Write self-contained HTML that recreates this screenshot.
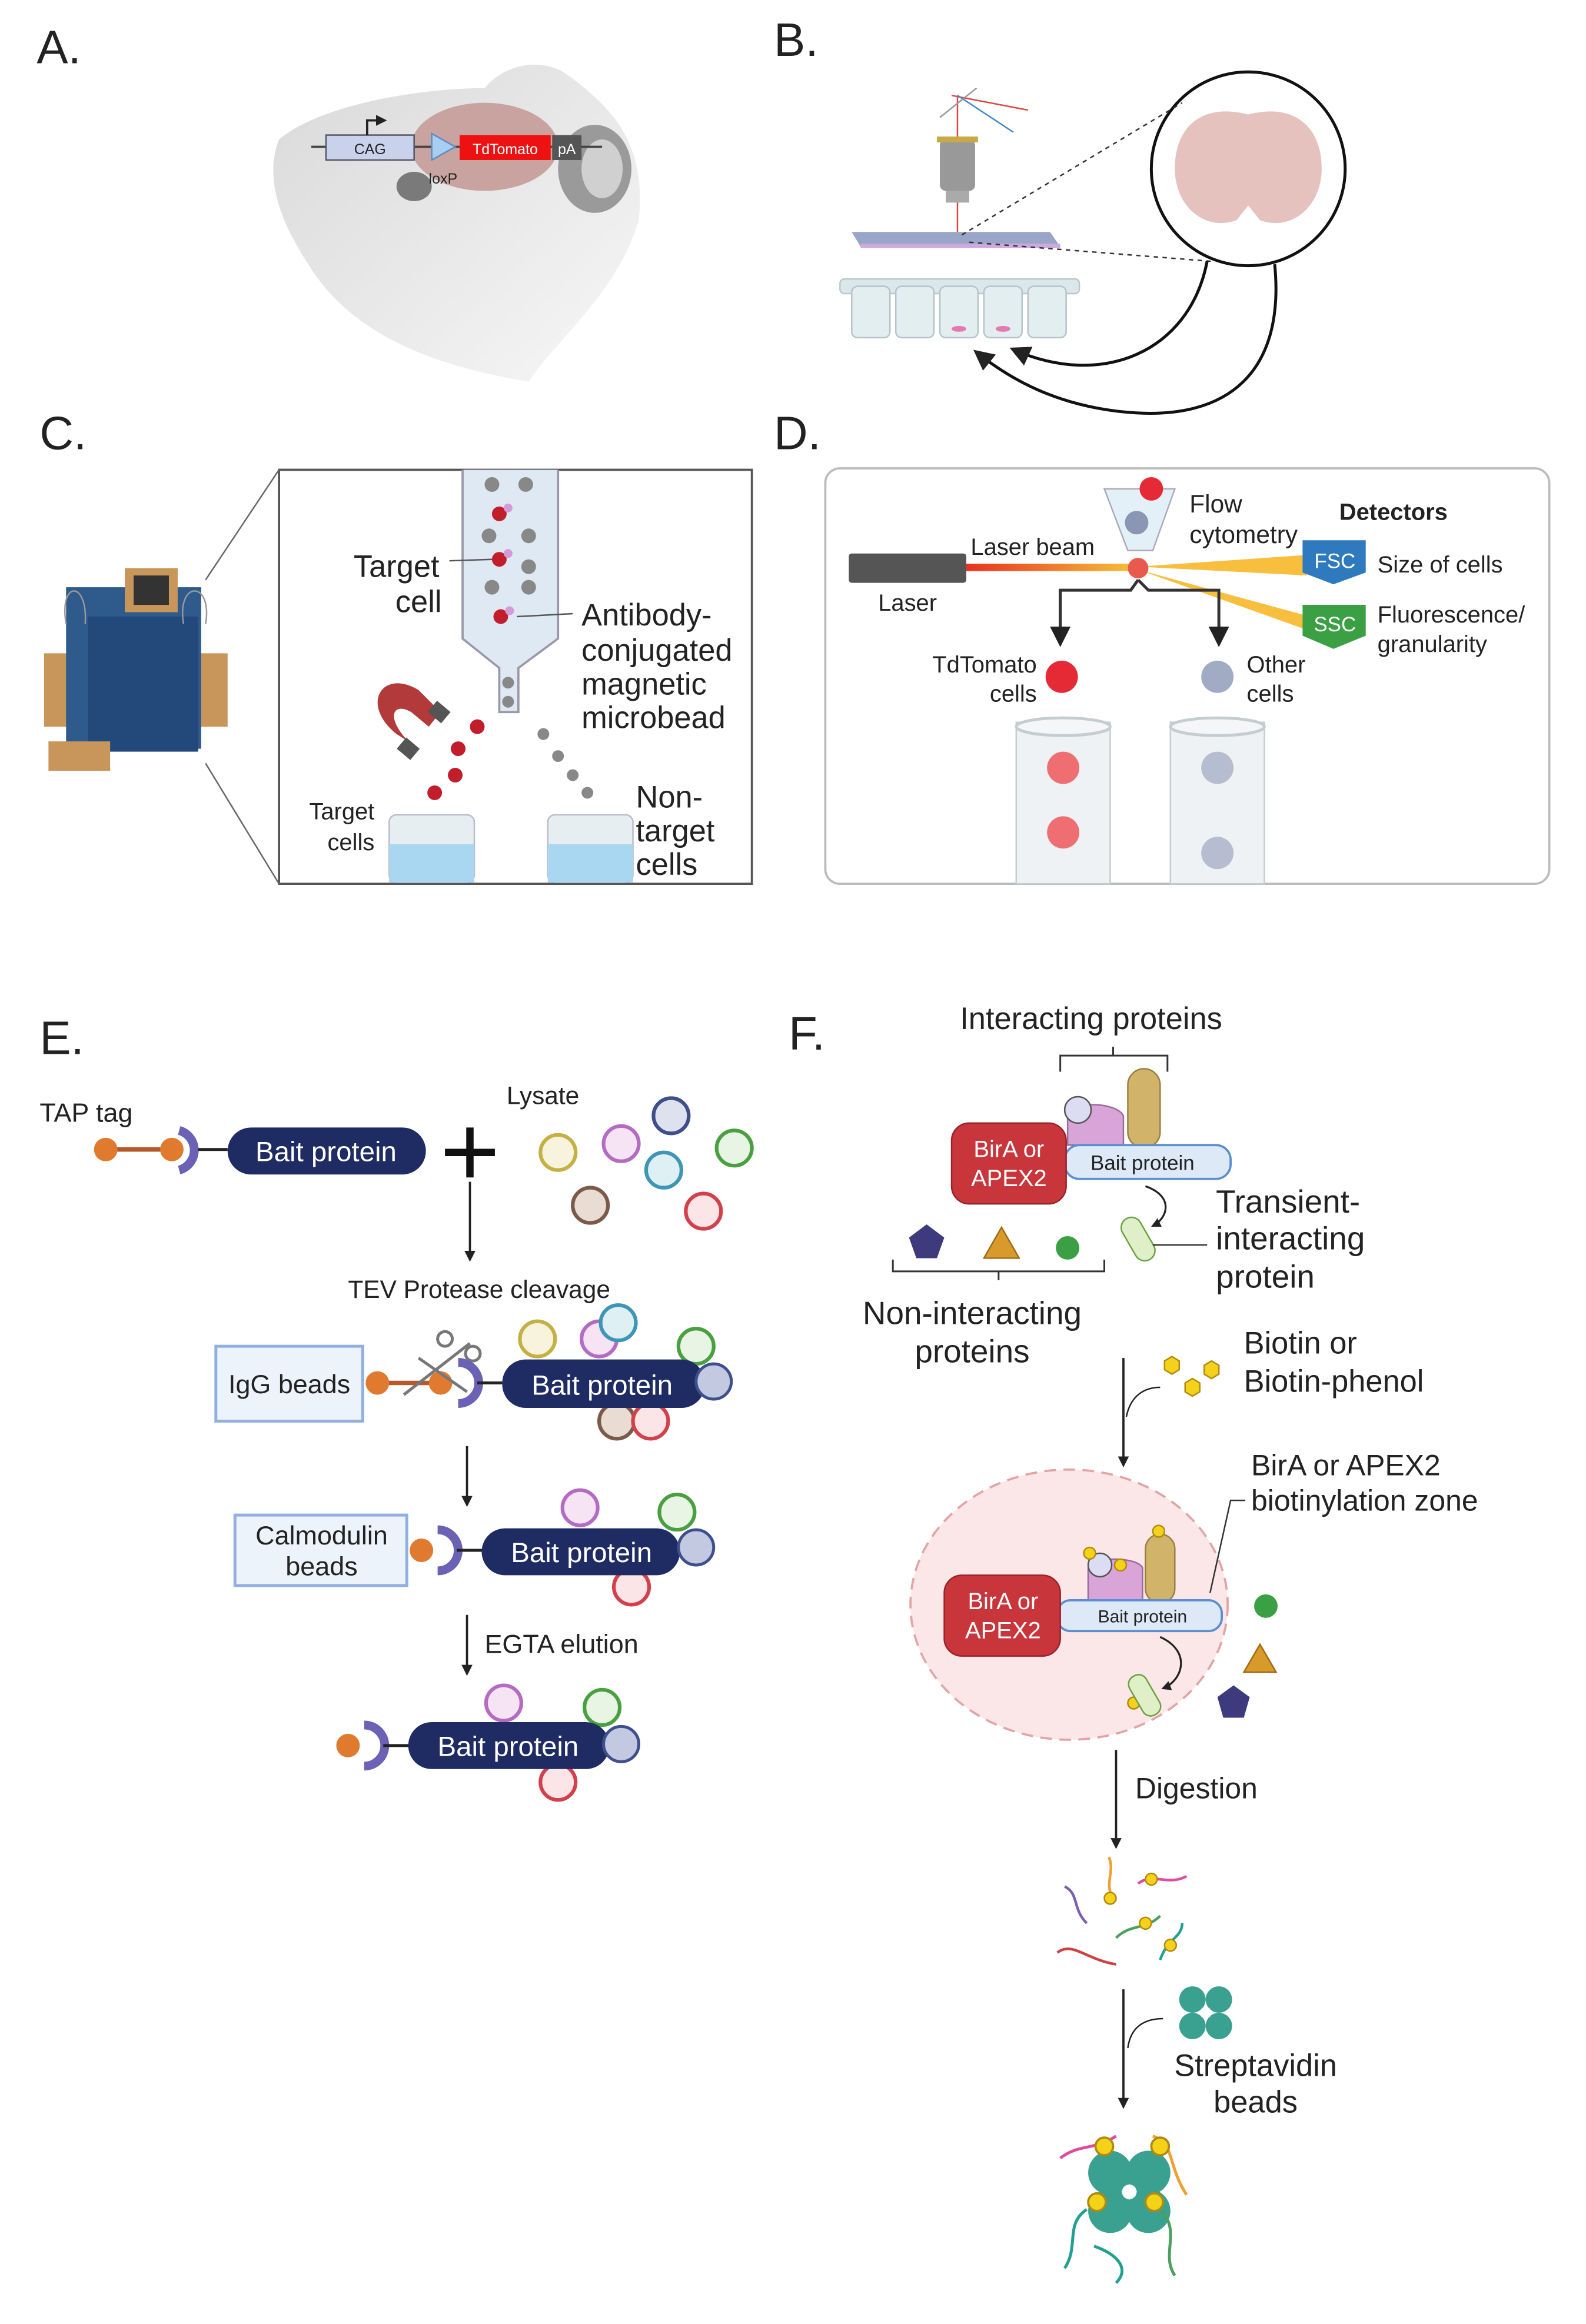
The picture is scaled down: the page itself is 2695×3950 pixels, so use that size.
<!DOCTYPE html>
<html><head><meta charset="utf-8"><style>
html,body{margin:0;padding:0;background:#fff;}
svg{display:block;}
text{font-family:"Liberation Sans",sans-serif;fill:#222;}
</style></head><body>
<svg width="2695" height="3950" viewBox="0 0 1080 1583" preserveAspectRatio="none" xmlns="http://www.w3.org/2000/svg">
<defs>
<marker id="ah" markerWidth="8" markerHeight="8" refX="4" refY="6" orient="auto" markerUnits="userSpaceOnUse"><path d="M0,0 L8,0 L4,8 z" fill="#222" transform="rotate(-90 4 4)"/></marker>
<marker id="ar" viewBox="0 0 10 10" refX="8" refY="5" markerWidth="7" markerHeight="7" orient="auto"><path d="M0,0 L10,5 L0,10 z" fill="#222"/></marker>
<marker id="arb" viewBox="0 0 10 10" refX="8" refY="5" markerWidth="5" markerHeight="5" orient="auto"><path d="M0,0 L10,5 L0,10 z" fill="#222"/></marker>
<linearGradient id="mg" x1="0" y1="0" x2="1" y2="1"><stop offset="0" stop-color="#d9d9d9"/><stop offset="1" stop-color="#f7f7f7"/></linearGradient>
<linearGradient id="beam" x1="0" x2="1"><stop offset="0" stop-color="#e8321e"/><stop offset="1" stop-color="#f7c33a"/></linearGradient>
</defs>

<!-- A -->
<text x="25" y="43" font-size="32">A.</text>
<path d="M190,95 C220,70 290,60 330,60 C345,42 370,40 385,50 C420,75 440,100 435,150 C420,200 380,230 360,260 C300,250 240,230 210,180 C190,150 180,120 190,95 Z" fill="url(#mg)"/>
<ellipse cx="330" cy="100" rx="50" ry="30" fill="#c9a3a0"/>
<ellipse cx="405" cy="115" rx="25" ry="30" fill="#9a9a9a"/><ellipse cx="410" cy="115" rx="14" ry="20" fill="#d0d0d0"/>
<ellipse cx="282" cy="127" rx="12" ry="10" fill="#7a7a7a"/>
<line x1="212" y1="100" x2="410" y2="100" stroke="#444" stroke-width="1.5"/>
<rect x="222" y="92" width="60" height="17" fill="#c8d2ea" stroke="#556" stroke-width="1"/><text x="252" y="105" font-size="10" text-anchor="middle">CAG</text>
<path d="M250,92 L250,82 L262,82" fill="none" stroke="#222" stroke-width="1.5" marker-end="url(#arb)"/>
<path d="M294,91 L310,100 L294,109 Z" fill="#a9cdf0" stroke="#5a8cc8"/>
<rect x="313" y="92" width="62" height="17" fill="#ee1111"/><text x="344" y="105" font-size="10" text-anchor="middle" fill="#fff" style="fill:#fff">TdTomato</text>
<rect x="376" y="92" width="20" height="17" fill="#555"/><text x="386" y="105" font-size="10" text-anchor="middle" style="fill:#fff">pA</text>
<text x="292" y="125" font-size="10">loxP</text>

<!-- B -->
<text x="527" y="38" font-size="32">B.</text>
<line x1="652" y1="65" x2="652" y2="160" stroke="#d44" stroke-width="1"/><line x1="648" y1="65" x2="700" y2="75" stroke="#d44"/><line x1="652" y1="65" x2="690" y2="90" stroke="#48c"/><line x1="640" y1="80" x2="665" y2="60" stroke="#999"/>
<rect x="640" y="95" width="24" height="35" rx="4" fill="#999"/><rect x="638" y="93" width="28" height="4" fill="#c9a84a"/><rect x="644" y="130" width="16" height="8" fill="#aaa"/>
<polygon points="580,158 715,158 722,168 586,168" fill="#9aa6c8"/><rect x="586" y="166" width="136" height="3" fill="#d0a8e0"/>
<rect x="572" y="190" width="163" height="10" rx="3" fill="#dbe7ea" stroke="#b9c8cc"/>
<g fill="#e3eef0" stroke="#b5c4c8"><rect x="580" y="195" width="26" height="35" rx="4"/><rect x="610" y="195" width="26" height="35" rx="4"/><rect x="640" y="195" width="26" height="35" rx="4"/><rect x="670" y="195" width="26" height="35" rx="4"/><rect x="700" y="195" width="26" height="35" rx="4"/></g>
<ellipse cx="653" cy="224" rx="5" ry="2" fill="#e47ab0"/><ellipse cx="683" cy="224" rx="5" ry="2" fill="#e47ab0"/>
<circle cx="850" cy="115" r="66" fill="#fff" stroke="#111" stroke-width="2"/>
<path d="M850,78 C880,70 900,85 900,115 C900,140 880,158 858,150 L850,140 L842,150 C820,158 800,140 800,115 C800,85 820,70 850,78 Z" fill="#e6c2be"/>
<line x1="655" y1="160" x2="805" y2="70" stroke="#333" stroke-dasharray="3,3"/><line x1="660" y1="165" x2="825" y2="178" stroke="#333" stroke-dasharray="3,3"/>
<path d="M822,178 C810,240 750,265 690,238" fill="none" stroke="#111" stroke-width="2" marker-end="url(#ar)"/>
<path d="M868,180 C875,250 840,290 760,280 C720,275 690,260 665,240" fill="none" stroke="#111" stroke-width="2" marker-end="url(#ar)"/>

<!-- C -->
<text x="27" y="306" font-size="32">C.</text>
<rect x="190" y="320" width="322" height="282" fill="#fff" stroke="#555" stroke-width="1.5"/>
<line x1="190" y1="320" x2="140" y2="395" stroke="#666"/><line x1="190" y1="602" x2="140" y2="520" stroke="#666"/>
<rect x="30" y="445" width="125" height="50" fill="#c8955a"/>
<rect x="45" y="400" width="92" height="110" fill="#2e5a8c"/><rect x="60" y="420" width="75" height="92" fill="#23497a"/>
<rect x="85" y="387" width="36" height="30" fill="#c8955a"/><rect x="91" y="392" width="24" height="20" fill="#333"/>
<rect x="33" y="505" width="42" height="20" fill="#c8955a"/>
<path d="M45,425 C40,395 60,395 58,425 M125,425 C120,395 145,395 140,425" fill="none" stroke="#999"/>
<path d="M315,320 L315,435 L340,455 L340,485 L353,485 L353,455 L380,435 L380,320" fill="#dfe9f3" stroke="#99a" stroke-width="1.5"/>
<g fill="#888"><circle cx="335" cy="330" r="5"/><circle cx="358" cy="330" r="5"/><circle cx="333" cy="365" r="5"/><circle cx="360" cy="365" r="5"/><circle cx="360" cy="386" r="5"/><circle cx="335" cy="400" r="5"/><circle cx="360" cy="400" r="5"/><circle cx="346" cy="465" r="4"/><circle cx="346" cy="478" r="4"/>
<circle cx="370" cy="500" r="4"/><circle cx="380" cy="515" r="4"/><circle cx="390" cy="528" r="4"/><circle cx="400" cy="540" r="4"/></g>
<g fill="#c21d2a"><circle cx="340" cy="350" r="5"/><circle cx="340" cy="381" r="5"/><circle cx="341" cy="420" r="5"/><circle cx="325" cy="495" r="5"/><circle cx="312" cy="510" r="5"/><circle cx="310" cy="528" r="5"/><circle cx="296" cy="540" r="5"/></g>
<g fill="#d59ad8"><circle cx="346" cy="346" r="3"/><circle cx="346" cy="377" r="3"/><circle cx="347" cy="416" r="3"/></g>
<path d="M270,500 C245,480 260,455 285,470 L300,485 L292,495 L280,485 C268,478 262,488 278,505 Z" fill="#b23a3a"/>
<rect x="293" y="480" width="12" height="10" fill="#555" transform="rotate(40 299 485)"/><rect x="272" y="505" width="12" height="10" fill="#555" transform="rotate(40 278 510)"/>
<line x1="306" y1="382" x2="335" y2="381" stroke="#555"/><line x1="352" y1="420" x2="390" y2="418" stroke="#555"/>
<text x="270" y="393" font-size="21" text-anchor="middle">Target</text><text x="285" y="417" font-size="21" text-anchor="middle">cell</text>
<text x="396" y="426" font-size="21">Antibody-</text><text x="396" y="450" font-size="21">conjugated</text><text x="396" y="473" font-size="21">magnetic</text><text x="396" y="496" font-size="21">microbead</text>
<text x="255" y="558" font-size="16" text-anchor="end">Target</text><text x="255" y="579" font-size="16" text-anchor="end">cells</text>
<text x="433" y="550" font-size="21">Non-</text><text x="433" y="573" font-size="21">target</text><text x="433" y="596" font-size="21">cells</text>
<g><rect x="265" y="555" width="58" height="46" rx="5" fill="#e7eef1" stroke="#bbc"/><rect x="265" y="575" width="58" height="26" fill="#a9d7f1"/></g>
<g><rect x="373" y="555" width="58" height="46" rx="5" fill="#e7eef1" stroke="#bbc"/><rect x="373" y="575" width="58" height="26" fill="#a9d7f1"/></g>

<!-- D -->
<text x="527" y="306" font-size="32">D.</text>
<rect x="562" y="319" width="493" height="283" rx="10" fill="#fff" stroke="#bbb" stroke-width="1.5"/>
<rect x="578" y="377" width="80" height="20" rx="2" fill="#555"/>
<polygon points="658,384 775,384 775,389 658,389" fill="url(#beam)"/>
<polygon points="775,386 890,378 890,392" fill="#f7b82a" opacity="0.9"/>
<polygon points="775,388 892,420 887,428" fill="#f7b82a" opacity="0.9"/>
<polygon points="752,333 800,333 785,375 768,375" fill="#e4f0f7" stroke="#aab"/>
<circle cx="784" cy="333" r="8" fill="#e52a35"/><circle cx="774" cy="356" r="8" fill="#8a96b4"/><circle cx="775" cy="387" r="7" fill="#e85a4e"/>
<path d="M775,395 L770,402 L722,402 L722,438 M775,395 L782,402 L830,402 L830,438" fill="none" stroke="#333" stroke-width="2" marker-end="url(#ar)"/>
<path d="M722,402 L722,438" fill="none" stroke="#333" stroke-width="2" marker-end="url(#ar)"/>
<text x="661" y="378" font-size="16">Laser beam</text><text x="598" y="416" font-size="16">Laser</text>
<text x="810" y="349" font-size="17">Flow</text><text x="810" y="370" font-size="17">cytometry</text>
<text x="912" y="354" font-size="16" font-weight="bold">Detectors</text>
<path d="M887,368 L930,368 L930,390 L908,398 L887,390 Z" fill="#2f7abf"/><text x="909" y="387" font-size="14" text-anchor="middle" style="fill:#fff">FSC</text>
<path d="M887,412 L930,412 L930,433 L908,442 L887,433 Z" fill="#3aa043"/><text x="909" y="430" font-size="14" text-anchor="middle" style="fill:#fff">SSC</text>
<text x="938" y="390" font-size="16">Size of cells</text><text x="938" y="424" font-size="16">Fluorescence/</text><text x="938" y="444" font-size="16">granularity</text>
<text x="706" y="458" font-size="16" text-anchor="end">TdTomato</text><text x="706" y="478" font-size="16" text-anchor="end">cells</text>
<circle cx="723" cy="461" r="11" fill="#e52a35"/><circle cx="829" cy="461" r="11" fill="#a1abc4"/>
<text x="849" y="458" font-size="16">Other</text><text x="849" y="478" font-size="16">cells</text>
<rect x="692" y="492" width="64" height="110" fill="#eef2f4" stroke="#c6cdd1"/><ellipse cx="724" cy="495" rx="32" ry="6" fill="#f4f6f7" stroke="#c6cdd1" stroke-width="2"/>
<rect x="797" y="492" width="64" height="110" fill="#eef2f4" stroke="#c6cdd1"/><ellipse cx="829" cy="495" rx="32" ry="6" fill="#f4f6f7" stroke="#c6cdd1" stroke-width="2"/>
<circle cx="724" cy="523" r="11" fill="#ee6e72"/><circle cx="724" cy="567" r="11" fill="#ee6e72"/><circle cx="829" cy="523" r="11" fill="#b6bdd0"/><circle cx="829" cy="581" r="11" fill="#b6bdd0"/>

<!-- E -->
<text x="27" y="718" font-size="32">E.</text>
<text x="27" y="764" font-size="18">TAP tag</text>
<line x1="72" y1="783" x2="117" y2="783" stroke="#b5582a" stroke-width="3"/>
<circle cx="72" cy="783" r="8" fill="#e07a2e"/><circle cx="117" cy="783" r="8" fill="#e07a2e"/>
<path d="M122,770 A14,14 0 0,1 122,797" fill="none" stroke="#6b61b5" stroke-width="6"/>
<line x1="135" y1="783" x2="155" y2="783" stroke="#222" stroke-width="2"/>
<rect x="155" y="768" width="135" height="32" rx="16" fill="#1f2b63"/><text x="222" y="791" font-size="19" text-anchor="middle" style="fill:#fff">Bait protein</text>
<path d="M320,768 L320,802 M303,785 L337,785" stroke="#111" stroke-width="5"/>
<text x="345" y="752" font-size="17">Lysate</text>
<g stroke-width="2.5">
<circle cx="380" cy="785" r="12" fill="#f8f3dc" stroke="#c4b045"/><circle cx="423" cy="779" r="12" fill="#f6e4f5" stroke="#b46cc3"/><circle cx="457" cy="760" r="12" fill="#dde2ee" stroke="#3f4f8c"/><circle cx="452" cy="797" r="12" fill="#dff0f5" stroke="#3f95b5"/><circle cx="500" cy="782" r="12" fill="#e8f5e5" stroke="#4aa040"/><circle cx="402" cy="821" r="12" fill="#e8dcd3" stroke="#7a5a4a"/><circle cx="479" cy="825" r="12" fill="#fbe5e7" stroke="#d2404c"/>
</g>
<line x1="320" y1="805" x2="320" y2="858" stroke="#222" stroke-width="1.5" marker-end="url(#arb)"/>
<text x="237" y="884" font-size="17">TEV Protease cleavage</text>
<rect x="147" y="917" width="100" height="51" fill="#edf3fb" stroke="#8fb0e0" stroke-width="2"/><text x="197" y="949" font-size="18" text-anchor="middle">IgG beads</text>
<line x1="257" y1="942" x2="300" y2="942" stroke="#b5582a" stroke-width="3"/>
<circle cx="257" cy="942" r="8" fill="#e07a2e"/><circle cx="300" cy="942" r="8" fill="#e07a2e"/>
<path d="M275,950 L320,915 M285,925 L318,948" stroke="#777" stroke-width="2"/><circle cx="303" cy="912" r="5" fill="none" stroke="#777" stroke-width="2"/><circle cx="322" cy="922" r="5" fill="none" stroke="#777" stroke-width="2"/>
<path d="M312,928 A14,14 0 0,1 312,956" fill="none" stroke="#6b61b5" stroke-width="6"/>
<line x1="325" y1="942" x2="342" y2="942" stroke="#222" stroke-width="2"/>
<g stroke-width="2.5">
<circle cx="366" cy="912" r="12" fill="#f8f3dc" stroke="#c4b045"/><circle cx="408" cy="912" r="12" fill="#f6e4f5" stroke="#b46cc3"/><circle cx="421" cy="901" r="12" fill="#dff0f5" stroke="#3f95b5"/><circle cx="474" cy="917" r="12" fill="#e8f5e5" stroke="#4aa040"/>
<circle cx="420" cy="968" r="12" fill="#e8dcd3" stroke="#7a5a4a"/><circle cx="443" cy="968" r="12" fill="#fbe5e7" stroke="#d2404c"/>
</g>
<rect x="342" y="926" width="138" height="33" rx="16" fill="#1f2b63"/><text x="410" y="950" font-size="19" text-anchor="middle" style="fill:#fff">Bait protein</text>
<circle cx="486" cy="941" r="12" fill="#c2c9e0" stroke="#3f4f8c" stroke-width="2"/>
<line x1="318" y1="985" x2="318" y2="1025" stroke="#222" stroke-width="1.5" marker-end="url(#arb)"/>
<rect x="160" y="1032" width="117" height="48" fill="#edf3fb" stroke="#8fb0e0" stroke-width="2"/><text x="219" y="1052" font-size="18" text-anchor="middle">Calmodulin</text><text x="219" y="1073" font-size="18" text-anchor="middle">beads</text>
<circle cx="287" cy="1056" r="8" fill="#e07a2e"/>
<path d="M298,1042 A14,14 0 0,1 298,1070" fill="none" stroke="#6b61b5" stroke-width="6"/>
<line x1="311" y1="1056" x2="330" y2="1056" stroke="#222" stroke-width="2"/>
<g stroke-width="2.5"><circle cx="395" cy="1027" r="12" fill="#f6e4f5" stroke="#b46cc3"/><circle cx="461" cy="1030" r="12" fill="#e8f5e5" stroke="#4aa040"/><circle cx="430" cy="1081" r="12" fill="#fbe5e7" stroke="#d2404c"/></g>
<rect x="328" y="1041" width="135" height="32" rx="16" fill="#1f2b63"/><text x="396" y="1064" font-size="19" text-anchor="middle" style="fill:#fff">Bait protein</text>
<circle cx="474" cy="1054" r="12" fill="#c2c9e0" stroke="#3f4f8c" stroke-width="2"/>
<line x1="318" y1="1100" x2="318" y2="1140" stroke="#222" stroke-width="1.5" marker-end="url(#arb)"/>
<text x="330" y="1126" font-size="18">EGTA elution</text>
<circle cx="237" cy="1189" r="8" fill="#e07a2e"/>
<path d="M248,1175 A14,14 0 0,1 248,1203" fill="none" stroke="#6b61b5" stroke-width="6"/>
<line x1="261" y1="1189" x2="280" y2="1189" stroke="#222" stroke-width="2"/>
<g stroke-width="2.5"><circle cx="343" cy="1160" r="12" fill="#f6e4f5" stroke="#b46cc3"/><circle cx="410" cy="1163" r="12" fill="#e8f5e5" stroke="#4aa040"/><circle cx="380" cy="1214" r="12" fill="#fbe5e7" stroke="#d2404c"/></g>
<rect x="278" y="1173" width="137" height="32" rx="16" fill="#1f2b63"/><text x="346" y="1196" font-size="19" text-anchor="middle" style="fill:#fff">Bait protein</text>
<circle cx="423" cy="1188" r="12" fill="#c2c9e0" stroke="#3f4f8c" stroke-width="2"/>

<!-- F -->
<text x="537" y="715" font-size="32">F.</text>
<text x="743" y="701" font-size="21" text-anchor="middle">Interacting proteins</text>
<path d="M722,730 L722,719 L795,719 L795,730 M758,719 L758,713" fill="none" stroke="#333" stroke-width="1.2"/>
<path d="M727,780 L727,760 C727,750 760,750 765,760 L765,780 Z" fill="#d9a4d8" stroke="#9a6a9a"/>
<circle cx="734" cy="756" r="9" fill="#dcdcf2" stroke="#555"/>
<rect x="768" y="728" width="22" height="54" rx="11" fill="#d2b36a" stroke="#9a8040"/>
<rect x="725" y="780" width="113" height="23" rx="10" fill="#dde9f7" stroke="#5b8ed0" stroke-width="1.5"/><text x="778" y="797" font-size="14" text-anchor="middle">Bait protein</text>
<rect x="648" y="765" width="78" height="55" rx="12" fill="#c8363c" stroke="#9a2228"/><text x="687" y="788" font-size="16" text-anchor="middle" style="fill:#fff">BirA or</text><text x="687" y="808" font-size="16" text-anchor="middle" style="fill:#fff">APEX2</text>
<rect x="768" y="828" width="14" height="32" rx="7" fill="#dff0c8" stroke="#6aa040" transform="rotate(-30 775 844)"/>
<path d="M780,808 C800,815 795,830 785,835" fill="none" stroke="#222" stroke-width="1.3" marker-end="url(#arb)"/>
<line x1="785" y1="848" x2="822" y2="848" stroke="#333"/>
<text x="828" y="826" font-size="22">Transient-</text><text x="828" y="851" font-size="22">interacting</text><text x="828" y="877" font-size="22">protein</text>
<polygon points="631,834 643,843 638,857 624,857 619,843" fill="#3d3a7e"/>
<polygon points="682,836 694,857 670,857" fill="#d89a2a" stroke="#a06a10"/>
<circle cx="727" cy="850" r="8" fill="#3aa043"/>
<path d="M608,858 L608,866 L752,866 L752,858 M680,866 L680,872" fill="none" stroke="#333" stroke-width="1.2"/>
<text x="662" y="902" font-size="22" text-anchor="middle">Non-interacting</text><text x="662" y="928" font-size="22" text-anchor="middle">proteins</text>
<line x1="765" y1="925" x2="765" y2="998" stroke="#222" stroke-width="1.5" marker-end="url(#arb)"/>
<path d="M767,965 C770,950 780,945 790,945" fill="none" stroke="#222"/>
<g fill="#f4d21a" stroke="#b08a10"><polygon points="798,924 803,927 803,933 798,936 793,933 793,927"/><polygon points="825,927 830,930 830,936 825,939 820,936 820,930"/><polygon points="812,939 817,942 817,948 812,951 807,948 807,942"/></g>
<text x="847" y="922" font-size="21">Biotin or</text><text x="847" y="948" font-size="21">Biotin-phenol</text>
<ellipse cx="728" cy="1093" rx="108" ry="92" fill="#fbe7e7" stroke="#e2a4a4" stroke-dasharray="8,5" stroke-width="1.5"/>
<text x="852" y="1005" font-size="20">BirA or APEX2</text><text x="852" y="1029" font-size="20">biotinylation zone</text>
<path d="M848,1022 L838,1022 L824,1085" fill="none" stroke="#333"/>
<path d="M741,1090 L741,1068 C741,1060 775,1060 778,1068 L778,1090 Z" fill="#d9a4d8" stroke="#9a6a9a"/>
<circle cx="749" cy="1066" r="8" fill="#dcdcf2" stroke="#555"/>
<rect x="780" y="1045" width="20" height="47" rx="10" fill="#d2b36a" stroke="#9a8040"/>
<g fill="#f4d21a" stroke="#b08a10"><circle cx="742" cy="1058" r="4"/><circle cx="763" cy="1066" r="4"/><circle cx="789" cy="1043" r="4"/><circle cx="772" cy="1160" r="4"/></g>
<rect x="720" y="1090" width="112" height="21" rx="9" fill="#dde9f7" stroke="#5b8ed0" stroke-width="1.5"/><text x="778" y="1105" font-size="12" text-anchor="middle">Bait protein</text>
<rect x="643" y="1073" width="79" height="55" rx="12" fill="#c8363c" stroke="#9a2228"/><text x="683" y="1096" font-size="16" text-anchor="middle" style="fill:#fff">BirA or</text><text x="683" y="1116" font-size="16" text-anchor="middle" style="fill:#fff">APEX2</text>
<rect x="773" y="1140" width="13" height="30" rx="6" fill="#dff0c8" stroke="#6aa040" transform="rotate(-30 779 1155)"/>
<path d="M790,1115 C812,1125 805,1145 792,1150" fill="none" stroke="#222" stroke-width="1.3" marker-end="url(#arb)"/>
<circle cx="862" cy="1094" r="8" fill="#3aa043"/>
<polygon points="858,1120 869,1139 847,1139" fill="#d89a2a" stroke="#a06a10"/>
<polygon points="840,1148 851,1156 847,1170 833,1170 829,1156" fill="#3d3a7e"/>
<line x1="760" y1="1192" x2="760" y2="1258" stroke="#222" stroke-width="1.5" marker-end="url(#arb)"/>
<text x="773" y="1225" font-size="20">Digestion</text>
<g fill="none" stroke-width="1.8">
<path d="M725,1285 C735,1290 730,1300 740,1310" stroke="#7b5fb0"/>
<path d="M755,1265 C760,1275 750,1285 760,1295" stroke="#f0a030"/>
<path d="M775,1283 C785,1275 795,1285 808,1278" stroke="#e04aa0"/>
<path d="M760,1320 C770,1310 780,1315 790,1305" stroke="#4aa060"/>
<path d="M790,1335 C795,1320 805,1320 805,1310" stroke="#20a090"/>
<path d="M720,1330 C730,1322 740,1335 760,1338" stroke="#d04040"/>
</g>
<g fill="#f4d21a" stroke="#b08a10"><circle cx="756" cy="1293" r="4"/><circle cx="784" cy="1280" r="4"/><circle cx="780" cy="1310" r="4"/><circle cx="797" cy="1325" r="4"/></g>
<line x1="765" y1="1355" x2="765" y2="1435" stroke="#222" stroke-width="1.5" marker-end="url(#arb)"/>
<path d="M768,1395 C770,1380 780,1375 792,1375" fill="none" stroke="#222"/>
<g fill="#3aa090"><circle cx="812" cy="1362" r="9"/><circle cx="830" cy="1362" r="9"/><circle cx="812" cy="1380" r="9"/><circle cx="830" cy="1380" r="9"/></g><circle cx="821" cy="1371" r="4" fill="#fff"/>
<text x="855" y="1414" font-size="21" text-anchor="middle">Streptavidin</text><text x="855" y="1439" font-size="21" text-anchor="middle">beads</text>
<g fill="#3aa090"><circle cx="756" cy="1480" r="15"/><circle cx="782" cy="1480" r="15"/><circle cx="756" cy="1506" r="15"/><circle cx="782" cy="1506" r="15"/></g><circle cx="769" cy="1493" r="5" fill="#fff"/>
<g fill="none" stroke-width="2">
<path d="M722,1470 C735,1460 745,1465 760,1455" stroke="#e04aa0"/>
<path d="M785,1455 C800,1460 795,1475 808,1495" stroke="#f0a030"/>
<path d="M740,1505 C725,1515 735,1530 725,1545" stroke="#20a090"/>
<path d="M790,1505 C805,1520 790,1535 800,1550" stroke="#4aa060"/>
<path d="M745,1530 C760,1535 770,1545 760,1555" stroke="#20a090"/>
</g>
<g fill="#f4d21a" stroke="#b08a10" stroke-width="1.5"><circle cx="752" cy="1462" r="6"/><circle cx="790" cy="1462" r="6"/><circle cx="747" cy="1500" r="6"/><circle cx="786" cy="1500" r="6"/></g>
</svg>
</body></html>
